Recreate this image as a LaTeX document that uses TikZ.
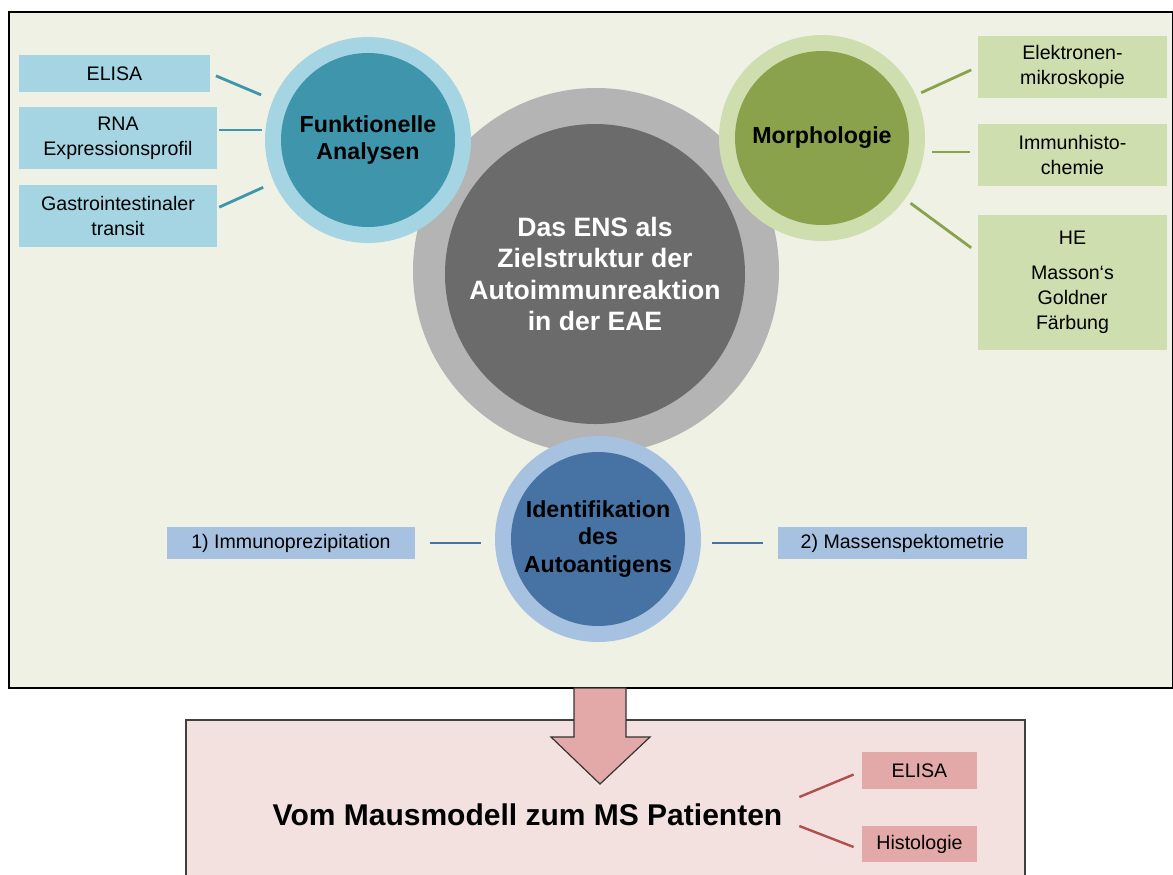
\documentclass[tikz,border=0pt]{standalone}
\usepackage{fontspec}
\setmainfont{Liberation Sans}
\definecolor{frameBg}{RGB}{238,241,228}
\definecolor{funkLight}{RGB}{165,213,227}
\definecolor{funkDark}{RGB}{62,149,172}
\definecolor{morphLight}{RGB}{206,222,174}
\definecolor{morphDark}{RGB}{138,162,75}
\definecolor{identLight}{RGB}{167,193,224}
\definecolor{identDark}{RGB}{70,115,163}
\definecolor{ensLight}{RGB}{180,180,180}
\definecolor{ensDark}{RGB}{107,107,107}
\definecolor{patBg}{RGB}{243,225,224}
\definecolor{patBox}{RGB}{227,169,168}
\definecolor{patLine}{RGB}{176,80,77}
\tikzset{
  ring/.style={circle,fill=#1,minimum size=103pt,inner sep=0pt,outer sep=0pt},
  core/.style={circle,fill=#1,minimum size=87pt,inner sep=0pt,align=center,
    font=\bfseries\fontsize{11.6}{13.6}\selectfont},
  item/.style={fill=#1,inner sep=0pt,align=center,font=\fontsize{9.8}{12.5}\selectfont},
  link/.style={draw=#1,line width=1.4pt}
}

\begin{document}
\begin{tikzpicture}[x=0.5pt,y=-0.5pt]
  \useasboundingbox (0,0) rectangle (1173,874);
  \draw[fill=frameBg,draw=black,line width=0.6pt] (9,12) rectangle (1172.5,688);

  % centre and the three satellites
  \node[ring=ensLight,minimum size=183pt] (ensRing) at (596,271) {};
  \node[core=ensDark,minimum size=150pt,text=white,
        font=\bfseries\fontsize{13.3}{15.8}\selectfont] (ens) at (595,274)
        {Das ENS als\\Zielstruktur der\\Autoimmunreaktion\\in der EAE};
  \node[ring=funkLight] (funkRing) at (368,140) {};
  \node[core=funkDark] (funk) at (368,140) {Funktionelle\\Analysen};
  \node[ring=morphLight] (morphRing) at (822,138) {};
  \node[core=morphDark] (morph) at (822,138) {Morphologie};
  \node[ring=identLight] (identRing) at (598,539) {};
  \node[core=identDark] (ident) at (598,539) {Identifikation\\des\\Autoantigens};

  \node[item=funkLight,minimum width=95.5pt,minimum height=18.5pt] (elisa) at (114.5,73.5) {ELISA};
  \node[item=funkLight,minimum width=99pt,minimum height=31pt] (rna) at (118,138) {RNA\\Expressionsprofil};
  \node[item=funkLight,minimum width=99pt,minimum height=31pt] (gastro) at (118,216) {Gastrointestinaler\\transit};
  \draw[link=funkDark,shorten <=3pt,shorten >=6.5pt] (elisa.east) -- (funkRing);
  \draw[link=funkDark,shorten <=1pt,shorten >=1.5pt] ([yshift=4pt]rna.east) -- ([yshift=4pt]rna.east -| funkRing.west);
  \draw[link=funkDark,shorten <=1pt,shorten >=6pt] ([yshift=4pt]gastro.east) -- (funkRing);

  \node[item=morphLight,minimum width=94.5pt,minimum height=31pt] (elektro) at (1072.5,67) {Elektronen-\\mikroskopie};
  \node[item=morphLight,minimum width=94.5pt,minimum height=31pt] (immunhisto) at (1072.5,155) {Immunhisto-\\chemie};
  \node[item=morphLight,minimum width=94.5pt,minimum height=67.5pt] (he) at (1072.5,282.5) {HE\\[5pt]Masson‘s\\Goldner\\Färbung};
  \draw[link=morphDark,shorten <=3.5pt,shorten >=3pt] (elektro.west) -- (morphRing);
  \draw[link=morphDark,shorten <=4pt,shorten >=3.5pt] ([yshift=1.5pt]immunhisto.west) -- ([yshift=1.5pt]immunhisto.west -| morphRing.east);
  \draw[link=morphDark,shorten <=4pt,shorten >=3.5pt] ([yshift=15pt]he.west) -- (morphRing);

  \node[item=identLight,minimum width=124pt,minimum height=16pt] (ip) at (291,543) {1) Immunoprezipitation};
  \node[item=identLight,minimum width=124.5pt,minimum height=16pt] (ms) at (902.5,543) {2) Massenspektometrie};
  \draw[link=identDark,shorten <=7.5pt,shorten >=7pt] (ip.east) -- (ip.east -| identRing.west);
  \draw[link=identDark,shorten <=7.5pt,shorten >=5.5pt] (ms.west) -- (ms.west -| identRing.east);

  % translation to the patient
  \draw[fill=patBg,draw=black!75,line width=0.6pt] (186,720) rectangle (1025,900);
  \draw[fill=patBox,draw=black!80,line width=0.6pt] (574,688) -- (574,737) -- (551,737) -- (600,784)
    -- (650,737) -- (626,737) -- (626,688) -- cycle;
  \node[font=\bfseries\fontsize{15}{18}\selectfont] (patient) at (527.5,815) {Vom Mausmodell zum MS Patienten};
  \node[item=patBox,minimum width=57.5pt,minimum height=18.5pt] (pElisa) at (919.5,770.5) {ELISA};
  \node[item=patBox,minimum width=57.5pt,minimum height=18pt] (pHisto) at (919.5,844) {Histologie};
  \draw[link=patLine,line width=1.2pt] ([shift={(5pt,9pt)}]patient.east) -- ([shift={(-4pt,-2pt)}]pElisa.west);
  \draw[link=patLine,line width=1.2pt] ([shift={(5pt,-5.5pt)}]patient.east) -- ([shift={(-4pt,-1.5pt)}]pHisto.west);
\end{tikzpicture}
\end{document}
